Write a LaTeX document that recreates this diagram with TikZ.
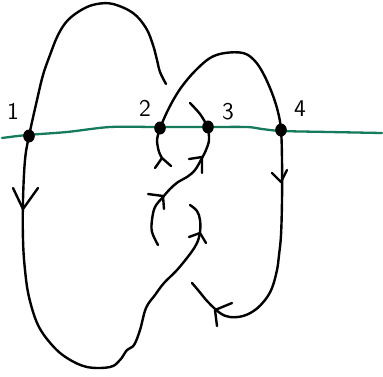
\documentclass[tikz,border=0pt]{standalone}
\usepackage{tikz}
\usetikzlibrary{shapes.geometric}

\definecolor{lineGreen}{RGB}{22,122,92}

\begin{document}
\begin{tikzpicture}[
      x=0.5pt, y=-0.5pt,
      strand/.style={draw=black, line width=1.2pt, line cap=round, line join=round},
      axis/.style  ={draw=lineGreen, line width=1.15pt, line cap=round},
      dot/.style   ={ellipse, fill=black, inner sep=0pt, minimum width=5.8pt, minimum height=6.5pt},
      lbl/.style   ={font=\sffamily\fontsize{12}{14}\selectfont, inner sep=0pt}
    ]
    \useasboundingbox (0,0) rectangle (383,376);
    % --- green line ---
    \draw[axis] plot[smooth] coordinates {(2,138) (27,135) (67,132) (110,127) (157,127) (207,127)
                                          (247,127) (262,129) (282,131) (330,132) (382,133)};
    % --- points on the line ---
    \node[dot] (d1) at (29,136) {};
    \node[dot] (d2) at (160,128) {};
    \node[dot] (d3) at (208,127) {};
    \node[dot] (d4) at (281,130) {};
    \node[lbl] (l1) at (13,111) {1};
    \node[lbl] (l2) at (145,108) {2};
    \node[lbl] (l3) at (228,112) {3};
    \node[lbl] (l4) at (300,109) {4};
    % --- big loop through 1 ---
    \draw[strand] plot[smooth, tension=0.6] coordinates {(166,84) (160,72) (157,60) (153,45) (146,28) (133,13)
        (113,4) (97,4) (83,9) (68,20) (58,35) (50,55) (43,75) (37,100) (d1.center) (25,160) (23,200)
        (23,240) (25,270) (29,297) (38,325) (52,345) (67,358) (87,367) (110,367) (120,360) (127,350)
        (134,345) (140,330) (146,308) (155,295) (164,283) (177,270) (190,254) (197,243) (200,232)
        (200,220) (197,211) (190,205)};
    \draw[strand] (13,188) -- (23,209) -- (38,188);
    \draw[strand] (189,237) -- (200,233) -- (206,243);
    % --- arc from 2 over 4 ---
    \draw[strand] plot[smooth, tension=0.6] coordinates {(d2.center) (167,112) (175,97) (183,85) (195,71)
        (210,58) (225,53) (243,53) (254,60) (263,73) (272,93) (278,112) (d4.center) (282,160) (282,200)
        (281,235) (279,255) (277,270) (272,288) (265,300) (255,310) (243,316) (230,317) (220,313)
        (208,302) (198,290) (192,283)};
    \draw[strand] (272,173) -- (281,182) -- (287,170);
    \draw[strand] (232,303) -- (215,310) -- (217,326);
    % --- strand below 3 ---
    \draw[strand] plot[smooth, tension=0.6] coordinates {(d3.center) (209,140) (206,150) (202,158) (195,170)
        (187,177) (178,182) (170,189) (163,197) (155,207) (152,220) (152,232) (158,245)};
    \draw[strand] (189,159) -- (202,157) -- (202,173);
    \draw[strand] (148,194) -- (163,196) -- (164,209);
    % --- short strands ---
    \draw[strand] plot[smooth] coordinates {(d2.center) (157,140) (159,152) (162,158)};
    \draw[strand] (155,168) -- (162,158) -- (171,166);
    \draw[strand] plot[smooth] coordinates {(d3.center) (200,114) (190,103)};
\end{tikzpicture}
\end{document}
